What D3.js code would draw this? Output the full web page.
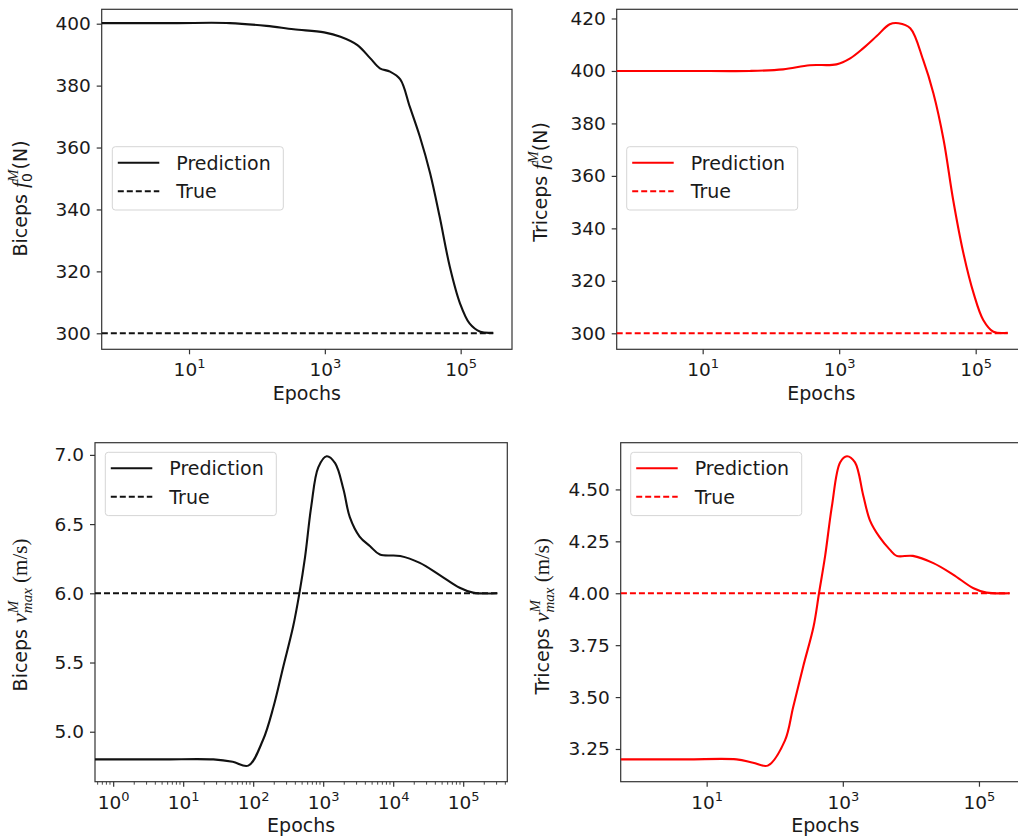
<!DOCTYPE html>
<html>
<head>
<meta charset="utf-8">
<script src="https://cdn.jsdelivr.net/npm/d3@7"></script>
<style>
  body { margin: 0; background: #fff; }
  svg { display: block; font-family: "DejaVu Sans", sans-serif; }
</style>
</head>
<body>
<svg id="chart" width="1018" height="839"></svg>
<script>
// ---- data ----
const bicepsF0Epochs = [0.52, 6, 40, 138, 347, 977, 1700, 3020, 4680, 6460, 9120, 12900, 17800, 25100, 35500, 49000, 69200, 97700, 135000, 195000, 302000];
const bicepsF0Pred   = [400.2, 400.2, 400.2, 399.3, 398.2, 397.2, 395.8, 393.1, 388.8, 385.6, 384.5, 382.0, 373.2, 363.5, 351.7, 337.7, 321.5, 309.7, 303.2, 300.5, 300.2];
const bicepsF0True   = 300;

const tricepsF0Epochs = [0.55, 6, 49, 151, 372, 912, 1450, 2240, 3550, 5500, 7410, 11000, 17000, 24000, 33900, 46800, 66100, 93300, 129000, 182000, 295000];
const tricepsF0Pred   = [400, 400, 400, 400.6, 402.2, 402.5, 404.8, 408.6, 413.3, 417.8, 418.2, 416.3, 404.2, 391.5, 373.7, 350.8, 330.5, 315.2, 305.1, 300.6, 300.2];
const tricepsF0True   = 300;

const bicepsVEpochs = [0.55, 5, 27, 51, 85, 138, 195, 269, 372, 457, 550, 676, 851, 1120, 1480, 1950, 2400, 3310, 4680, 6460, 12600, 24000, 46800, 89100, 138000, 309000];
const bicepsVPred   = [4.80, 4.80, 4.80, 4.783, 4.755, 4.94, 5.18, 5.47, 5.76, 6.0, 6.26, 6.63, 6.91, 6.99, 6.94, 6.75, 6.55, 6.41, 6.34, 6.28, 6.27, 6.22, 6.13, 6.04, 6.005, 6.0];
const bicepsVTrue   = 6.0;

const tricepsVEpochs = [0.55, 5, 27.5, 48, 79, 141, 186, 263, 372, 447, 550, 692, 912, 1150, 1510, 2000, 2510, 3470, 4900, 6170, 10700, 21400, 41700, 83200, 129000, 282000];
const tricepsVPred   = [3.20, 3.20, 3.20, 3.184, 3.170, 3.29, 3.45, 3.65, 3.84, 4.0, 4.18, 4.42, 4.63, 4.66, 4.63, 4.47, 4.35, 4.27, 4.21, 4.18, 4.18, 4.145, 4.09, 4.024, 4.003, 4.0];
const tricepsVTrue   = 4.0;

const f0BicepsTicks  = [300, 320, 340, 360, 380, 400];
const f0TricepsTicks = [300, 320, 340, 360, 380, 400, 420];
const vBicepsTicks   = [5.0, 5.5, 6.0, 6.5, 7.0];
const vTricepsTicks  = [3.25, 3.5, 3.75, 4.0, 4.25, 4.5];
const oddDecades     = [10, 1000, 100000];
const allDecades     = [1, 10, 100, 1000, 10000, 100000];
const legendLabels   = ["Prediction", "True"];

// ---- label pieces (mathtext-like) ----
const f0Label = (m) => [
  { t: m + " " }, { t: "f", math: true }, { t: "0", sub: true },
  { t: "M", sup: true, math: true, back: true }, { t: "(N)" }
];
const vLabel = (m) => [
  { t: m + " " }, { t: "v", math: true }, { t: "M", sup: true, math: true },
  { t: "max", sub: true, math: true, back: true }, { t: " (m/s)", serif: true }
];

// ---- panel layout ----
const panels = [
  { epochs: bicepsF0Epochs, pred: bicepsF0Pred, truth: bicepsF0True, color: "#111",
    box: [101.7, 9.3, 512, 349.3], xDomain: [0.518, 570000], yDomain: [294.83, 404.65],
    yTicks: f0BicepsTicks, yFmt: d3.format("d"), xTicks: oddDecades, minor: false,
    label: f0Label("Biceps"), labelPos: [27, 198.5], legend: [112.3, 146.7] },
  { epochs: tricepsF0Epochs, pred: tricepsF0Pred, truth: tricepsF0True, color: "#ff0000",
    box: [616.7, 9.3, 1026, 349.3], xDomain: [0.55, 546000], yDomain: [293.9, 423.5],
    yTicks: f0TricepsTicks, yFmt: d3.format("d"), xTicks: oddDecades, minor: false,
    label: f0Label("Triceps"), labelPos: [547, 181.5], legend: [626.7, 146.7] },
  { epochs: bicepsVEpochs, pred: bicepsVPred, truth: bicepsVTrue, color: "#111",
    box: [95, 442.7, 507.3, 781.7], xDomain: [0.55, 426600], yDomain: [4.639, 7.088],
    yTicks: vBicepsTicks, yFmt: d3.format(".1f"), xTicks: allDecades, minor: true,
    label: vLabel("Biceps"), labelPos: [27, 615], legend: [105.3, 452.3] },
  { epochs: tricepsVEpochs, pred: tricepsVPred, truth: tricepsVTrue, color: "#ff0000",
    box: [620.7, 442.7, 1030, 781.7], xDomain: [0.546, 562000], yDomain: [3.0925, 4.725],
    yTicks: vTricepsTicks, yFmt: d3.format(".2f"), xTicks: oddDecades, minor: false,
    label: vLabel("Triceps"), labelPos: [549, 615.7], legend: [630.7, 452.3] }
];

const svg = d3.select("#chart");
svg.append("rect").attr("width", 1018).attr("height", 839).attr("fill", "#fff");

const INK = "#1a1a1a";
const FS = 19;      // labels, legend
const TFS = 18.5;   // tick labels
const DASH = "6,3";

panels.forEach(p => {
  const [l, t, r, b] = p.box;
  const x = d3.scaleLog().domain(p.xDomain).range([l, r]);
  const y = d3.scaleLinear().domain(p.yDomain).range([b, t]);
  const g = svg.append("g");

  // x axis
  const xa = g.append("g").attr("transform", `translate(0,${b})`)
    .call(d3.axisBottom(x).tickValues(p.xTicks).tickSize(5).tickSizeOuter(0).tickFormat(() => ""));
  xa.select(".domain").remove();
  xa.selectAll(".tick line").attr("stroke", "#333").attr("stroke-width", 1.2);
  xa.selectAll(".tick text").attr("y", 27).attr("dy", null)
    .attr("font-size", TFS).attr("fill", INK).attr("font-family", "DejaVu Sans")
    .each(function (d) {
      const el = d3.select(this);
      el.append("tspan").text("10");
      el.append("tspan").attr("font-size", 13).attr("dy", -8).text(Math.round(Math.log10(d)));
    });

  if (p.minor) {
    const minors = x.ticks().filter(v => Math.abs(Math.log10(v) - Math.round(Math.log10(v))) > 1e-6);
    g.append("g").selectAll("line").data(minors).join("line")
      .attr("x1", d => x(d)).attr("x2", d => x(d))
      .attr("y1", b).attr("y2", b + 3)
      .attr("stroke", "#333").attr("stroke-width", 0.9);
  }

  // y axis
  const ya = g.append("g").attr("transform", `translate(${l},0)`)
    .call(d3.axisLeft(y).tickValues(p.yTicks).tickSize(5).tickPadding(6).tickSizeOuter(0).tickFormat(p.yFmt));
  ya.select(".domain").remove();
  ya.selectAll(".tick line").attr("stroke", "#333").attr("stroke-width", 1.2);
  ya.selectAll(".tick text").attr("font-size", TFS).attr("fill", INK).attr("font-family", "DejaVu Sans");

  // frame
  g.append("rect").attr("x", l).attr("y", t).attr("width", r - l).attr("height", b - t)
    .attr("fill", "none").attr("stroke", "#333").attr("stroke-width", 1.2);

  // series
  const pts = p.epochs.map((e, i) => [e, p.pred[i]]);
  const line = d3.line().x(d => x(d[0])).y(d => y(d[1])).curve(d3.curveCatmullRom.alpha(0.5));
  g.append("path").datum([[p.epochs[0], p.truth], [p.epochs[p.epochs.length - 1], p.truth]])
    .attr("d", line).attr("fill", "none").attr("stroke", p.color)
    .attr("stroke-width", 2).attr("stroke-dasharray", DASH);
  g.append("path").datum(pts).attr("d", line)
    .attr("fill", "none").attr("stroke", p.color).attr("stroke-width", 2.1);

  // x label
  g.append("text").attr("x", (l + r) / 2).attr("y", b + 50.5)
    .attr("text-anchor", "middle").attr("font-size", FS).attr("fill", INK).text("Epochs");

  // y label (rotated, built from pieces)
  const lg = g.append("g").attr("transform", `translate(${p.labelPos[0]},${p.labelPos[1]}) rotate(-90)`);
  const txt = lg.append("text").attr("font-size", FS).attr("fill", INK);
  let shift = 0, prev = null;
  p.label.forEach(s => {
    const ts = txt.append("tspan").text(s.t);
    if (s.math) ts.attr("font-family", "Liberation Serif").attr("font-style", "italic").attr("font-size", s.sub || s.sup ? 15 : 22);
    else if (s.serif) ts.attr("font-family", "Liberation Serif").attr("font-size", 21);
    else if (s.sub || s.sup) ts.attr("font-size", 14);
    const target = s.sub ? 4.5 : s.sup ? -9 : 0;
    if (target !== shift) { ts.attr("dy", target - shift); shift = target; }
    if (s.back && prev) ts.attr("dx", -prev.node().getComputedTextLength());
    prev = ts;
  });
  const w = txt.node().getBBox().width;
  txt.attr("x", -w / 2);

  // legend
  const [lx, ly] = p.legend;
  const leg = g.append("g");
  leg.append("rect").attr("x", lx).attr("y", ly).attr("width", 171).attr("height", 63.3)
    .attr("rx", 3).attr("fill", "#fff").attr("fill-opacity", 0.8)
    .attr("stroke", "#d5d5d5").attr("stroke-width", 1);
  legendLabels.forEach((name, i) => {
    const yy = ly + 16 + i * 28.5;
    leg.append("line").attr("x1", lx + 5.5).attr("x2", lx + 47).attr("y1", yy).attr("y2", yy)
      .attr("stroke", p.color).attr("stroke-width", 2)
      .attr("stroke-dasharray", i === 1 ? DASH : null);
    leg.append("text").attr("x", lx + 64).attr("y", yy + 7)
      .attr("font-size", FS).attr("fill", INK).text(name);
  });
});
</script>
</body>
</html>
